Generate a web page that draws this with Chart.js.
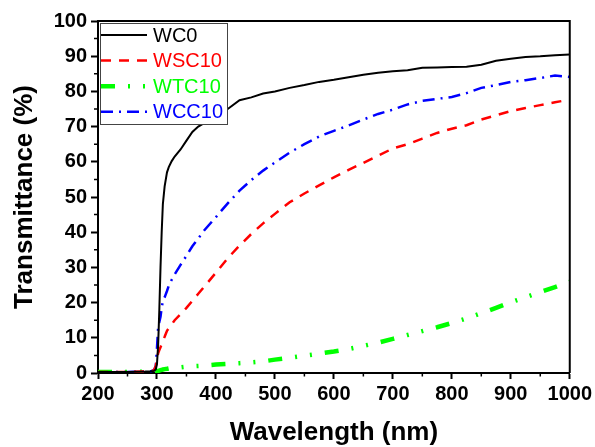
<!DOCTYPE html>
<html>
<head>
<meta charset="utf-8">
<script src="https://cdn.jsdelivr.net/npm/chart.js@4.4.1/dist/chart.umd.min.js"></script>
<style>
  html, body { margin: 0; padding: 0; background: #fff; }
  #chart { display: block; }
</style>
</head>
<body>
<canvas id="chart" width="595" height="447"></canvas>
<script>
// Wavelength (nm) sample points
const wavelength = [200, 250, 280, 290, 295, 298, 300, 302, 304, 306, 308, 310, 313, 317, 320, 325, 330, 340, 350, 360, 370, 380, 400, 420, 440, 460, 480, 500, 525, 550, 575, 600, 625, 650, 675, 700, 725, 750, 775, 800, 825, 850, 875, 900, 925, 950, 975, 1000];

// Transmittance (%)
const wc0 = [0.3, 0.3, 0.4, 0.5, 0.6, 1.0, 2.5, 8, 18, 30, 40, 48, 53, 57, 58.5, 60.2, 61.5, 63.5, 66, 68.5, 70, 71, 73, 75, 77.5, 78.3, 79.4, 80, 81, 81.8, 82.7, 83.3, 84, 84.7, 85.3, 85.7, 86, 86.7, 86.8, 86.9, 87, 87.6, 88.7, 89.3, 89.8, 90, 90.3, 90.5];
const wsc10 = [0.3, 0.3, 0.4, 0.5, 0.8, 2.0, 4.0, 5.6, 6.5, 7.3, 8.2, 9.2, 10.3, 12.0, 12.7, 13.8, 15, 16.7, 18.5, 20.5, 22.5, 24.5, 28.5, 32.6, 36.2, 39.5, 42.5, 45.2, 48.5, 51, 53.3, 55.6, 57.7, 59.7, 61.7, 63.8, 65, 66.6, 68.2, 69.4, 70.4, 72, 73.2, 74.4, 75.3, 76.1, 76.9, 77.7];
const wtc10 = [0.3, 0.3, 0.4, 0.4, 0.5, 0.5, 0.6, 0.6, 0.7, 0.8, 0.9, 1.0, 1.1, 1.2, 1.3, 1.4, 1.5, 1.6, 1.8, 1.9, 2.0, 2.1, 2.4, 2.6, 2.8, 3.0, 3.3, 3.8, 4.3, 4.9, 5.5, 6.1, 6.8, 7.7, 8.6, 9.7, 10.8, 11.9, 13, 14.2, 15.5, 17, 18.5, 20.1, 21.5, 23, 24.4, 25.9];
const wcc10 = [0.3, 0.3, 0.4, 0.5, 0.8, 2.0, 7.0, 13, 14.5, 16, 18.5, 20.5, 21.5, 23.3, 24.8, 26.5, 28, 30.7, 33.3, 36, 38.2, 40.5, 44.3, 48.2, 51.8, 54.8, 57.5, 59.8, 62.6, 65, 67.2, 68.8, 70.3, 72, 73.6, 74.8, 76.3, 77.3, 77.9, 78.4, 79.5, 81, 81.8, 82.7, 83.2, 83.8, 84.5, 84.1];

const xTicks = [200, 300, 400, 500, 600, 700, 800, 900, 1000];
const yTicks = [0, 10, 20, 30, 40, 50, 60, 70, 80, 90, 100];

const FONT = 'Arial, "Liberation Sans", sans-serif';

const pts = vals => wavelength.map((w, i) => ({ x: w, y: vals[i] }));

// frame, minor ticks and boxed legend
const extras = {
  id: 'extras',
  afterDraw(chart) {
    const { ctx, chartArea: a, scales: { x, y } } = chart;
    ctx.save();
    ctx.strokeStyle = '#000';
    ctx.lineWidth = 2;
    ctx.beginPath();
    ctx.moveTo(a.left, a.top);
    ctx.lineTo(a.right, a.top);
    ctx.lineTo(a.right, a.bottom);
    ctx.stroke();

    ctx.lineWidth = 1.5;
    ctx.beginPath();
    for (let v = 250; v < 1000; v += 100) {
      const px = x.getPixelForValue(v);
      ctx.moveTo(px, a.bottom);
      ctx.lineTo(px, a.bottom + 3.5);
    }
    for (let v = 5; v < 100; v += 10) {
      const py = y.getPixelForValue(v);
      ctx.moveTo(a.left, py);
      ctx.lineTo(a.left - 4, py);
    }
    ctx.stroke();

    // legend
    const lx = 100, ly = 23, lw = 127, lh = 101;
    ctx.fillStyle = '#fff';
    ctx.fillRect(lx, ly, lw, lh);
    ctx.strokeStyle = '#444';
    ctx.lineWidth = 1;
    ctx.strokeRect(lx + 0.5, ly + 0.5, lw, lh);
    ctx.font = '20px ' + FONT;
    ctx.textBaseline = 'middle';
    chart.data.datasets.forEach((ds, i) => {
      const cy = 35 + i * 25.6;
      ctx.strokeStyle = ds.borderColor;
      ctx.lineWidth = ds.borderWidth;
      ctx.setLineDash(ds.borderDash || []);
      ctx.beginPath();
      ctx.moveTo(lx + 1, cy);
      ctx.lineTo(lx + 47, cy);
      ctx.stroke();
      ctx.setLineDash([]);
      ctx.fillStyle = ds.borderColor;
      ctx.fillText(ds.label, 153, cy + 1);
    });
    ctx.restore();
  }
};

new Chart(document.getElementById('chart'), {
  type: 'line',
  data: {
    datasets: [
      { label: 'WC0', data: pts(wc0), borderColor: '#000000', borderWidth: 2, borderDash: [] },
      { label: 'WSC10', data: pts(wsc10), borderColor: '#ff0000', borderWidth: 2.5, borderDash: [10, 8] },
      { label: 'WTC10', data: pts(wtc10), borderColor: '#00ff00', borderWidth: 4.5, borderDash: [14, 13, 2, 13, 2, 13] },
      { label: 'WCC10', data: pts(wcc10), borderColor: '#0000ff', borderWidth: 2.5, borderDash: [12, 6, 2, 6] }
    ].map(d => Object.assign(d, { pointRadius: 0, tension: 0, fill: false }))
  },
  options: {
    responsive: false,
    animation: false,
    devicePixelRatio: 1,
    layout: { padding: { top: 21, right: 23, left: 0, bottom: 0 } },
    plugins: { legend: { display: false }, tooltip: { enabled: false } },
    scales: {
      x: {
        type: 'linear', min: 200, max: 1000,
        afterBuildTicks: s => { s.ticks = xTicks.map(v => ({ value: v })); },
        afterFit: s => { s.height = 74; },
        ticks: { color: '#000', font: { family: FONT, size: 20, weight: 'bold' }, padding: 3, maxRotation: 0, callback: v => String(v) },
        grid: { drawOnChartArea: false, tickLength: 6, tickWidth: 2, tickColor: '#000' },
        border: { color: '#000', width: 2 },
        title: { display: true, text: 'Wavelength (nm)', color: '#000', font: { family: FONT, size: 26, weight: 'bold' }, padding: { top: 0, bottom: -1 } }
      },
      y: {
        min: 0, max: 100,
        afterBuildTicks: s => { s.ticks = yTicks.map(v => ({ value: v })); },
        afterFit: s => { s.width = 98; },
        ticks: { color: '#000', font: { family: FONT, size: 20, weight: 'bold' }, padding: 4, callback: v => String(v) },
        grid: { drawOnChartArea: false, tickLength: 7, tickWidth: 2, tickColor: '#000' },
        border: { color: '#000', width: 2 },
        title: { display: true, text: 'Transmittance (%)', color: '#000', font: { family: FONT, size: 26, weight: 'bold' }, padding: { top: 9, bottom: 0 } }
      }
    }
  },
  plugins: [extras]
});
</script>
</body>
</html>
